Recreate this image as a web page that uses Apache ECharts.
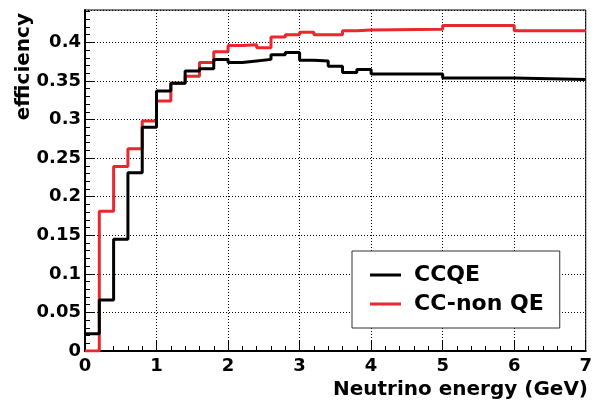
<!DOCTYPE html>
<html>
<head>
<meta charset="utf-8">
<script src="https://cdn.jsdelivr.net/npm/echarts@6/dist/echarts.min.js"></script>
<style>
  html, body { margin: 0; padding: 0; background: #fff; }
  #chart { width: 595px; height: 403px; }
</style>
</head>
<body>
<div id="chart"></div>
<script>
// bin edges (GeV): 0.2 wide up to 4, then 1 GeV wide
var binEdges = [0, 0.2, 0.4, 0.6, 0.8, 1.0, 1.2, 1.4, 1.6, 1.8, 2.0, 2.2, 2.4, 2.6, 2.8, 3.0, 3.2, 3.4, 3.6, 3.8, 4, 5, 6, 7];
var ccqe = [0.0225, 0.066, 0.145, 0.231, 0.290, 0.337, 0.347, 0.363, 0.366, 0.378, 0.374, 0.376, 0.378, 0.384, 0.387, 0.377, 0.376, 0.369, 0.361, 0.365, 0.359, 0.354, 0.352];
var ccnonqe = [0, 0.181, 0.239, 0.262, 0.298, 0.324, 0.347, 0.356, 0.374, 0.388, 0.396, 0.397, 0.393, 0.407, 0.410, 0.413, 0.410, 0.410, 0.415, 0.416, 0.417, 0.422, 0.415];
var seriesNames = ['CCQE', 'CC-non QE'];

var font = 'DejaVu Sans';

function histPoints(vals) {
  var pts = [];
  for (var i = 0; i < vals.length; i++) {
    pts.push([binEdges[i], vals[i]]);
  }
  pts.push([binEdges[binEdges.length - 1], vals[vals.length - 1]]);
  return pts;
}

var minorY = [];
for (var k = 0; k <= 44; k++) minorY.push(+(k * 0.01).toFixed(2));

var myChart = echarts.init(document.getElementById('chart'));
var option = {
  animation: false,
  grid: { left: 85, right: 7, top: 10, bottom: 52, show: true, borderColor: '#000', borderWidth: 1, backgroundColor: '#fff' },
  legend: {
    data: seriesNames,
    orient: 'vertical',
    left: 352,
    top: 251,
    padding: [13, 16, 13, 18],
    icon: 'rect',
    itemWidth: 31,
    itemHeight: 3,
    itemGap: 7,
    backgroundColor: '#fff',
    borderColor: '#333',
    borderWidth: 1,
    textStyle: { fontFamily: font, fontWeight: 'bold', fontSize: 22, lineHeight: 22, color: '#000', padding: [0, 0, 0, 8] }
  },
  xAxis: {
    type: 'value',
    min: 0,
    max: 7,
    interval: 1,
    axisLine: { lineStyle: { color: '#000', width: 2 } },
    axisTick: { inside: true, length: 10, lineStyle: { color: '#000', width: 1 } },
    minorTick: { show: true, splitNumber: 5, length: 5, lineStyle: { color: '#000', width: 1 } },
    axisLabel: { margin: 6, color: '#000', fontFamily: font, fontWeight: 'bold', fontSize: 18 },
    splitLine: { show: true, lineStyle: { color: '#000', type: [1, 2], width: 1 } }
  },
  yAxis: [{
    type: 'value',
    min: 0,
    max: 0.442,
    interval: 0.05,
    axisLine: { show: true, lineStyle: { color: '#000', width: 2 } },
    axisTick: { show: true, inside: true, length: 10, lineStyle: { color: '#000', width: 1 } },
    axisLabel: { margin: 4, showMaxLabel: false, color: '#000', fontFamily: font, fontWeight: 'bold', fontSize: 18 },
    splitLine: { show: true, lineStyle: { color: '#000', type: [1, 2], width: 1 } }
  }, {
    type: 'value',
    position: 'left',
    min: 0,
    max: 0.442,
    interval: 0.01,
    axisLine: { show: false },
    axisTick: { show: true, inside: true, length: 5, customValues: minorY, lineStyle: { color: '#000', width: 1 } },
    axisLabel: { show: false },
    splitLine: { show: false }
  }],
  graphic: [{
    type: 'text',
    x: 24,
    y: 13,
    rotation: Math.PI / 2,
    style: { text: 'efficiency', fill: '#000', font: 'bold 20px "DejaVu Sans"', textAlign: 'right', textVerticalAlign: 'middle' }
  }, {
    type: 'text',
    x: 588,
    y: 390,
    style: { text: 'Neutrino energy (GeV)', fill: '#000', font: 'bold 20px "DejaVu Sans"', textAlign: 'right', textVerticalAlign: 'middle' }
  }],
  series: [{
    name: 'CC-non QE',
    type: 'line',
    step: 'end',
    symbol: 'none',
    data: histPoints(ccnonqe),
    lineStyle: { color: '#e8282d', width: 3 },
    itemStyle: { color: '#e8282d' }
  }, {
    name: 'CCQE',
    type: 'line',
    step: 'end',
    symbol: 'none',
    data: histPoints(ccqe),
    lineStyle: { color: '#000', width: 3 },
    itemStyle: { color: '#000' }
  }]
};
myChart.setOption(option);
</script>
</body>
</html>
